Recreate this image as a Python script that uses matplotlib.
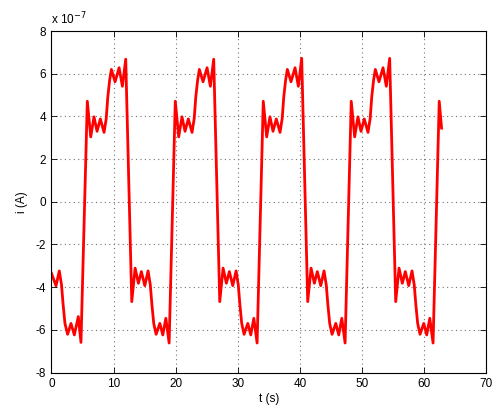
import matplotlib.pyplot as plt

# current samples, in units of 1e-7 A
t = [0.00, 0.73, 1.26, 1.62, 1.87, 2.17, 2.60, 3.14, 3.68, 4.32, 4.75,
     5.77, 6.32, 6.85, 7.34, 7.87, 8.47, 8.82, 9.07, 9.37, 9.65, 10.24, 10.89, 11.42, 11.96,
     12.93, 13.47, 14.00, 14.48, 15.03, 15.56, 15.92, 16.17, 16.47, 16.85, 17.45, 17.93, 18.42, 18.95,
     19.94, 20.49, 21.02, 21.51, 22.04, 22.64, 22.99, 23.24, 23.54, 23.82, 24.41, 25.06, 25.59, 26.13,
     27.10, 27.64, 28.17, 28.65, 29.20, 29.73, 30.09, 30.34, 30.64, 31.02, 31.62, 32.10, 32.59, 33.12,
     34.11, 34.66, 35.19, 35.68, 36.21, 36.81, 37.16, 37.41, 37.71, 37.99, 38.58, 39.23, 39.76, 40.30,
     41.27, 41.81, 42.34, 42.82, 43.37, 43.90, 44.26, 44.51, 44.81, 45.19, 45.79, 46.27, 46.76, 47.29,
     48.28, 48.83, 49.36, 49.85, 50.38, 50.98, 51.33, 51.58, 51.88, 52.16, 52.75, 53.40, 53.93, 54.47,
     55.44, 55.98, 56.51, 56.99, 57.54, 58.07, 58.43, 58.68, 58.98, 59.36, 59.96, 60.44, 60.93, 61.46,
     62.45, 62.83]

i = [-3.35, -3.94, -3.24, -3.90, -4.80, -5.70, -6.21, -5.70, -6.24, -5.38, -6.59,
     4.71, 3.04, 3.98, 3.30, 3.88, 3.25, 3.90, 4.90, 5.70, 6.20, 5.62, 6.28, 5.41, 6.68,
     -4.68, -3.11, -3.82, -3.27, -3.93, -3.24, -3.90, -4.80, -5.70, -6.21, -5.70, -6.24, -5.46, -6.62,
     4.71, 3.04, 3.98, 3.30, 3.88, 3.25, 3.90, 4.90, 5.70, 6.20, 5.62, 6.28, 5.41, 6.68,
     -4.68, -3.11, -3.82, -3.27, -3.93, -3.24, -3.90, -4.80, -5.70, -6.21, -5.70, -6.24, -5.46, -6.62,
     4.71, 3.04, 3.98, 3.30, 3.88, 3.25, 3.90, 4.90, 5.70, 6.20, 5.62, 6.28, 5.41, 6.72,
     -4.68, -3.11, -3.82, -3.27, -3.93, -3.24, -3.90, -4.80, -5.70, -6.21, -5.70, -6.24, -5.46, -6.62,
     4.71, 3.04, 3.98, 3.30, 3.88, 3.25, 3.90, 4.90, 5.70, 6.20, 5.62, 6.28, 5.41, 6.72,
     -4.68, -3.11, -3.82, -3.27, -3.93, -3.24, -3.90, -4.80, -5.70, -6.21, -5.70, -6.24, -5.46, -6.62,
     4.71, 3.45]

xticks = [0, 10, 20, 30, 40, 50, 60, 70]
yticks = [-8, -6, -4, -2, 0, 2, 4, 6, 8]

plt.rcParams['font.family'] = ['Liberation Sans', 'DejaVu Sans']
plt.rcParams['axes.unicode_minus'] = False

fig = plt.figure(figsize=(4.95, 4.08), dpi=100)
ax = fig.add_axes([0.104, 0.087, 0.878, 0.837])

ax.plot(t, i, color='red', linewidth=2.0, solid_joinstyle='round')

ax.set_xlim(0, 70)
ax.set_ylim(-8, 8)
ax.set_xticks(xticks)
ax.set_yticks(yticks)
ax.tick_params(direction='in', top=True, right=True, labelsize=8.5,
               length=4, width=0.6, pad=4)
ax.grid(True, linestyle=(0, (1, 3)), color='0.45', linewidth=0.8)
for s in ax.spines.values():
    s.set_linewidth(0.8)

ax.set_xlabel('t (s)', fontsize=8.5, labelpad=2)
ax.set_ylabel('i (A)', fontsize=8.5, labelpad=5)
ax.text(0.0, 1.01, r'x 10$^{-7}$', transform=ax.transAxes, fontsize=8.5,
        ha='left', va='bottom')

fig.savefig('out.png', dpi=100)
